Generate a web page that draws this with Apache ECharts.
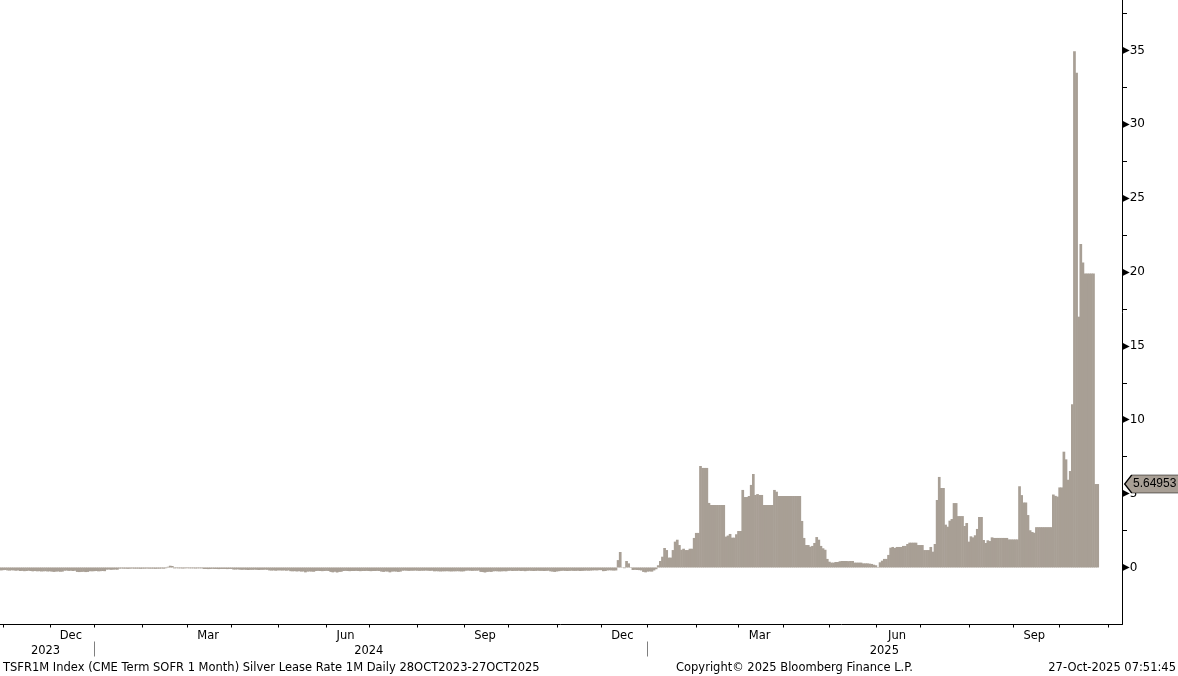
<!DOCTYPE html>
<html><head><meta charset="utf-8">
<script src="https://cdn.jsdelivr.net/npm/echarts@6/dist/echarts.min.js"></script>
<style>html,body{margin:0;padding:0;background:#fff}#c{width:1178px;height:676px}</style>
</head><body><div id="c"></div>
<script>
// ---- data ----
const startDate = '2023-10-30';   // first weekday of the series
const axisEndDate = '2025-11-11'; // axis runs a little past the last observation
const monthNames = ['Jan','Feb','Mar','Apr','May','Jun','Jul','Aug','Sep','Oct','Nov','Dec'];
const monthLabels = ['Dec','Mar','Jun','Sep'];
const yearLabels = ['2023','2024','2025'];
const yTickLabels = [0,5,10,15,20,25,30,35];
const yMinorTicks = [0,2.5,5,7.5,10,12.5,15,17.5,20,22.5,25,27.5,30,32.5,35,37.5];
const footerLeft = 'TSFR1M Index (CME Term SOFR 1 Month) Silver Lease Rate 1M Daily 28OCT2023-27OCT2025';
const footerMid = 'Copyright\u00A9 2025 Bloomberg Finance L.P.';
const footerRight = '27-Oct-2025 07:51:45';

// daily values (weekdays), 30 Oct 2023 - 29 Dec 2023
const rate2023 = [
-0.16,-0.2,-0.18,-0.17,
-0.2,-0.21,-0.19,-0.2,-0.22,-0.2,
-0.24,-0.23,-0.25,-0.24,-0.22,-0.24,-0.26,-0.24,
-0.26,-0.25,-0.27,-0.26,-0.25,-0.27,-0.26,
-0.28,-0.3,-0.28,-0.27,-0.29,-0.28,
-0.22,-0.21,-0.23,-0.22,-0.24,-0.22,
-0.3,-0.31,-0.3,-0.29,-0.31,-0.3,
-0.25,-0.26
];
// 2024 weekdays
const rate2024 = [
-0.25,-0.24,-0.26,-0.25,-0.24,-0.25,
-0.15,-0.14,-0.16,-0.15,-0.14,-0.15,
-0.08,-0.07,-0.08,-0.08,-0.09,-0.08,-0.07,-0.08,-0.08,-0.08,-0.09,-0.08,-0.08,-0.07,-0.08,-0.08,-0.08,-0.09,-0.08,-0.08,-0.07,-0.08,-0.05,
0.05,0.12,0.1,
-0.06,-0.05,-0.06,-0.06,-0.07,-0.06,-0.05,-0.06,-0.06,-0.06,-0.07,-0.06,-0.06,-0.06,
-0.1,-0.1,-0.11,-0.1,-0.09,-0.1,-0.1,-0.11,-0.1,-0.1,-0.1,-0.11,-0.1,-0.1,
-0.14,-0.14,-0.13,-0.15,
-0.16,-0.15,-0.16,-0.17,-0.16,-0.16,-0.15,-0.16,-0.17,-0.16,-0.16,-0.15,-0.16,
-0.2,-0.21,-0.2,-0.22,-0.2,-0.2,-0.21,-0.2,-0.22,-0.2,
-0.25,-0.26,-0.25,-0.27,-0.25,
-0.28,-0.27,-0.33,-0.28,-0.27,-0.28,-0.29,
-0.24,-0.23,-0.24,-0.25,-0.24,-0.23,-0.24,
-0.3,-0.33,-0.29,-0.34,-0.3,-0.29,
-0.24,-0.23,-0.24,-0.25,-0.24,-0.24,-0.23,-0.24,-0.25,-0.24,-0.24,-0.23,-0.24,-0.25,-0.24,-0.24,-0.23,-0.24,
-0.28,-0.3,-0.27,-0.28,-0.33,-0.28,-0.27,-0.28,-0.3,-0.28,
-0.22,-0.21,-0.22,-0.23,-0.22,-0.22,-0.21,-0.22,-0.23,-0.22,-0.22,-0.21,-0.22,-0.23,-0.22,
-0.26,-0.25,-0.26,-0.27,-0.26,-0.26,-0.25,-0.26,-0.27,-0.26,-0.26,-0.25,-0.26,-0.27,-0.26,
-0.22,-0.21,-0.22,-0.23,-0.22,-0.22,-0.21,
-0.3,-0.31,-0.34,-0.3,-0.29,-0.3,
-0.26,-0.25,-0.26,-0.27,-0.26,-0.25,-0.26,
-0.23,-0.22,-0.24,-0.23,-0.23,-0.22,-0.24,-0.23,-0.25,-0.23,
-0.22,-0.23,-0.24,-0.23,-0.22,-0.23,-0.23,-0.24,-0.23,-0.22,
-0.26,-0.28,-0.3,-0.27,-0.25,-0.23,-0.22,-0.23,-0.24,-0.23,
-0.22,-0.23,-0.23,-0.22,-0.24,-0.23,-0.22,-0.21,-0.22,-0.21,
-0.2,-0.19,-0.2,-0.18,-0.18,
-0.25,-0.24,
-0.2,-0.19,-0.2,-0.21,-0.2,
0.5,1.05,0.02,-0.05,0.44,0.28,-0.03,
-0.17,-0.16,-0.17,-0.18,
-0.2,-0.3,-0.33
];
// 2025 weekdays up to 27 Oct 2025
const rate2025 = [
-0.28,-0.27,-0.28,
-0.2,-0.12,
0.15,0.44,0.73,1.32,1.18,
0.67,0.67,1.18,1.75,1.88,
1.52,1.2,1.27,1.18,1.18,
1.27,1.27,2.0,2.34,2.34,
6.87,6.74,6.74,6.74,4.37,
4.23,4.23,4.23,4.23,4.23,4.23,4.23,
2.09,2.16,2.27,2.02,2.02,
2.25,2.47,2.47,5.25,4.77,
4.77,4.84,5.59,6.33,4.91,
4.97,4.91,4.91,
4.23,4.23,4.23,4.23,4.23,
5.25,5.13,
4.84,4.84,4.84,4.84,4.84,4.84,4.84,4.84,4.84,4.84,4.84,
3.15,2.0,1.52,1.52,1.41,
1.46,1.66,2.06,1.88,1.46,
1.3,1.2,0.58,0.39,0.33,
0.33,0.37,0.37,
0.42,0.44,0.44,0.44,0.43,0.44,0.44,
0.33,0.33,0.33,0.33,
0.28,0.28,0.28,
0.26,0.24,0.19,0.15,-0.03,
0.35,0.46,0.58,0.58,0.85,
1.34,1.39,1.32,1.39,1.39,
1.39,1.46,1.46,1.59,1.68,
1.68,1.68,1.68,1.52,1.52,
1.52,1.18,1.18,1.18,1.39,
1.07,1.59,4.57,6.13,5.38,
5.38,2.9,2.76,3.17,3.28,
4.36,4.36,3.48,3.48,3.48,
2.81,3.01,1.75,2.11,2.04,
2.18,2.61,3.42,3.42,1.86,
1.66,1.84,1.79,2.04,2.0,
2.0,2.0,2.0,2.0,2.0,2.0,
1.9,1.9,1.9,1.9,1.9,
5.5,4.9,4.4,4.4,3.55,
2.52,2.4,2.35,
2.73,2.73,2.73,2.73,2.73,2.73,2.73,2.73,
4.94,4.85,4.8,5.42,5.42,
7.84,7.32,5.94,6.53,11.05,
34.95,33.5,16.98,21.9,20.64,
19.9,19.9,19.9,19.9,19.9,
5.64953,5.64953
];

// ---- build ----
function weekdays(from, to) {
  const out = [];
  let d = new Date(from + 'T00:00:00Z');
  const end = new Date(to + 'T00:00:00Z');
  while (d <= end) {
    const w = d.getUTCDay();
    if (w !== 0 && w !== 6) out.push(d.toISOString().slice(0, 10));
    d = new Date(d.getTime() + 86400000);
  }
  return out;
}
const categories = weekdays(startDate, axisEndDate);
const values = rate2023.concat(rate2024, rate2025);
const lastIndex = values.length - 1;
const lastValue = values[lastIndex];

// month and year groups
const monthStart = new Set(), monthLabelIdx = new Map();
const yearStart = new Set(), yearLabelIdx = new Map();
(function () {
  let mKey = null, mFirst = 0, yKey = null, yFirst = 0;
  const flushM = (last) => {
    const m = +mKey.slice(5, 7) - 1;
    if (monthLabels.includes(monthNames[m])) monthLabelIdx.set(Math.floor((mFirst + last) / 2), monthNames[m]);
  };
  const flushY = (last) => {
    if (yearLabels.includes(yKey)) yearLabelIdx.set(Math.floor((yFirst + last) / 2), yKey);
  };
  categories.forEach((c, i) => {
    const mk = c.slice(0, 7), yk = c.slice(0, 4);
    if (mk !== mKey) { if (mKey !== null) { flushM(i - 1); monthStart.add(i); } mKey = mk; mFirst = i; }
    if (yk !== yKey) { if (yKey !== null) { flushY(i - 1); yearStart.add(i); } yKey = yk; yFirst = i; }
  });
  flushM(categories.length - 1);
  flushY(categories.length - 1);
})();

const FONT = 'DejaVu Sans';
const BAR = '#a89f95';

const chart = echarts.init(document.getElementById('c'), null, { renderer: 'canvas' });
chart.setOption({
  animation: false,
  backgroundColor: '#ffffff',
  textStyle: { fontFamily: FONT },
  title: [
    { text: footerLeft, left: 3, top: 662, textStyle: { fontFamily: FONT, fontSize: 11.5, fontWeight: 'normal', color: '#000' }, padding: 0 },
    { text: footerMid, left: 676, top: 662, textStyle: { fontFamily: FONT, fontSize: 11.5, fontWeight: 'normal', color: '#000' }, padding: 0 },
    { text: footerRight, right: 2, top: 662, textStyle: { fontFamily: FONT, fontSize: 11.5, fontWeight: 'normal', color: '#000' }, padding: 0 }
  ],
  grid: { left: -2, right: 56, top: 0, bottom: 51.5, containLabel: false, outerBoundsMode: 'none' },
  xAxis: [
    {
      type: 'category', data: categories, boundaryGap: true, position: 'bottom',
      axisLine: { show: true, onZero: false, lineStyle: { color: '#000', width: 1 } },
      axisTick: { show: true, length: 3, alignWithLabel: true, interval: (i) => monthStart.has(i), lineStyle: { color: '#000' } },
      axisLabel: { show: true, interval: (i) => monthLabelIdx.has(i), formatter: (v, i) => monthLabelIdx.get(i) || '',
        color: '#000', fontSize: 11.5, fontFamily: FONT, margin: 6 },
      splitLine: { show: false }
    },
    {
      type: 'category', data: categories, boundaryGap: true, position: 'bottom', offset: 17,
      axisLine: { show: false, onZero: false },
      axisTick: { show: true, length: 15, alignWithLabel: true, interval: (i) => yearStart.has(i), lineStyle: { color: '#7f7f7f' } },
      axisLabel: { show: true, interval: (i) => yearLabelIdx.has(i), formatter: (v, i) => yearLabelIdx.get(i) || '',
        color: '#000', fontSize: 11.5, fontFamily: FONT, margin: 4 },
      splitLine: { show: false }
    }
  ],
  yAxis: {
    type: 'value', position: 'right', min: -3.86, max: 38.42,
    axisLine: { show: true, lineStyle: { color: '#000', width: 1 } },
    axisTick: { show: true, inside: false, length: 5, customValues: yMinorTicks, lineStyle: { color: '#000' } },
    axisLabel: {
      show: true, customValues: yTickLabels, margin: 0,
      formatter: (v) => '{t|\u25B6}{n|' + v + '}',
      rich: {
        t: { fontSize: 10, color: '#000', fontFamily: FONT, padding: [0, 0, 0, 0] },
        n: { fontSize: 12, color: '#000', fontFamily: FONT }
      }
    },
    splitLine: { show: false }
  },
  series: [{
    type: 'bar', xAxisIndex: 0, yAxisIndex: 0,
    data: values,
    barWidth: 2.7, barGap: '0%',
    itemStyle: { color: BAR },
    emphasis: { disabled: true },
    markPoint: {
      symbol: 'path://M0,9L7,0L56,0L56,18L7,18Z',
      symbolSize: [56, 18], symbolKeepAspect: false,
      symbolOffset: [55, 0],
      itemStyle: { color: BAR, borderColor: '#000', borderWidth: 1 },
      label: { show: true, position: 'inside', offset: [2, 0], color: '#000', fontSize: 12, fontFamily: 'Liberation Sans',
        formatter: (p) => String(p.value) },
      data: [{ coord: [categories[lastIndex], lastValue], value: lastValue }]
    }
  }]
});
</script>
</body></html>
